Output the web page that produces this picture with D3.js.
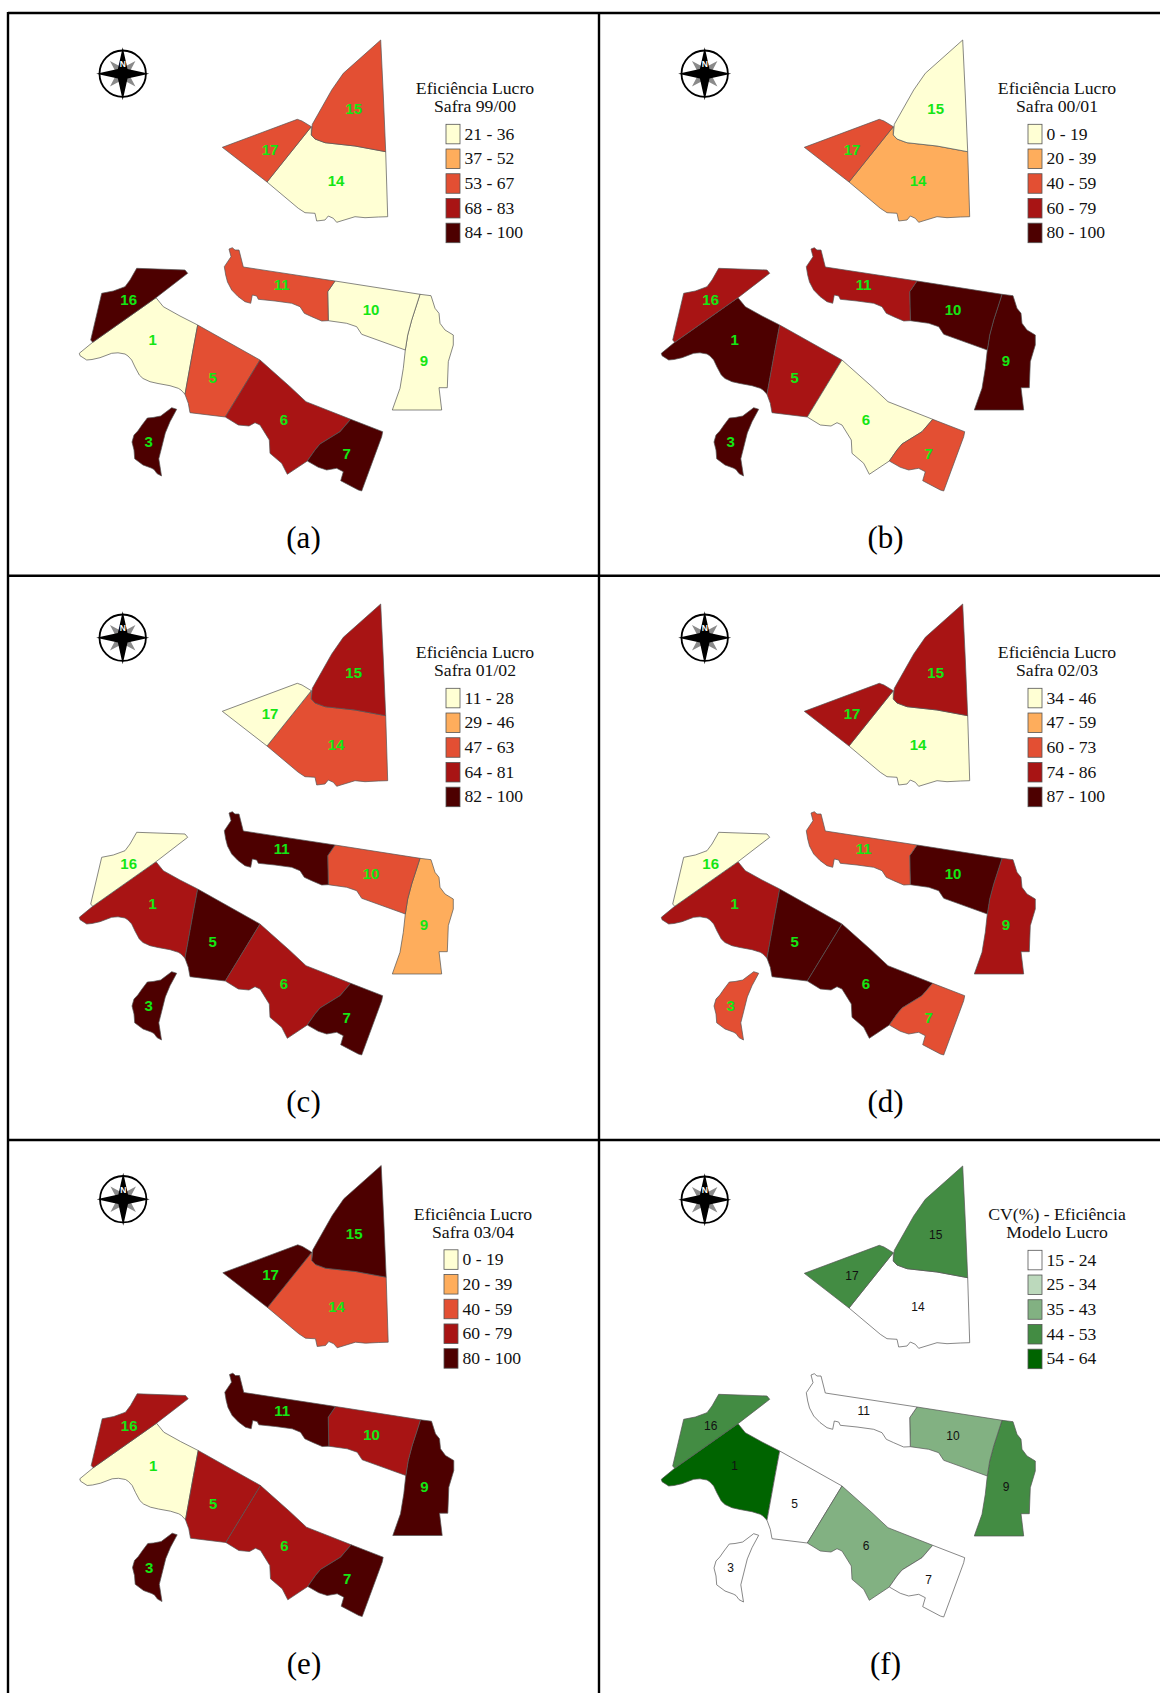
<!DOCTYPE html>
<html>
<head>
<meta charset="utf-8">
<script src="https://cdn.jsdelivr.net/npm/d3@7"></script>
<style>
  html, body { margin: 0; padding: 0; background: #fff; }
  svg { display: block; }
</style>
</head>
<body>
<div id="chart"></div>
<script>
// plot outlines (panel a)
var plot1 = [[156,297.7],[163.3,306.7],[180,316],[197.7,325],[193,350],[185,394.3],[181,390],[178.3,388.3],[170,385.7],[158,383.5],[150,381.7],[143,378.5],[139.3,375],[135,367],[131.7,360],[128,356],[125,354],[118,352.8],[111.7,353.3],[100,357.7],[92,359.5],[86.7,360],[80,355.7],[79.3,353.3],[92.7,342.3]]
var plot3 = [[171.7,407.7],[176.7,409.3],[170,421.7],[165.3,432.9],[158.8,458.8],[161.5,476],[157,473.6],[154,469.5],[151.2,468],[143,465],[134.7,458.8],[134,450],[132,442],[134,435],[137.8,431],[142,425],[147.3,418],[153,417.5],[160.7,416],[166,412]]
var plot5 = [[197.7,325],[260,360],[225.3,417],[190,412.7],[188.3,403.3],[185,394.3],[193,350]]
var plot6 = [[260,360],[290,386.7],[306,401.7],[350.7,419.3],[340,431.7],[320,444],[315,450],[307.3,461],[287.3,474.3],[281.7,463.3],[270,453.3],[269.3,440],[260,425],[255,422.7],[249,426],[238.3,425],[225.3,417]]
var plot7 = [[350.7,419.3],[382.7,431.7],[381.7,436.7],[361.7,491],[358.3,490],[340.7,480.7],[343.3,471.7],[336.7,468.3],[326.7,470],[318.3,467.3],[307.3,461],[315,450],[320,444],[340,431.7]]
var plot9 = [[420,294.3],[431,295.7],[435,308.3],[439,313.3],[440,323.3],[445,330],[453.3,335],[453.3,345],[448.3,361.7],[447.3,387.7],[439,387.7],[441.7,410],[392.3,410],[400,388.3],[403.3,368.3],[405.3,350],[407.7,335],[411.7,320]]
var plot10 = [[335,281],[420,294.3],[411.7,320],[407.7,335],[405.3,350],[361.7,334.3],[356.7,326.7],[346.7,323.3],[328.3,320.7],[327.7,291.7]]
var plot11 = [[243.3,267],[335,281],[327.7,291.7],[328.3,320.7],[321.7,321],[311.7,316.7],[304.3,313.3],[300,306.7],[291.7,303.3],[275,301],[258.3,299.3],[256.7,296],[252.3,295],[250.7,303.3],[245,301.7],[238,296.5],[231.7,290],[227.5,282],[225.7,275],[224.3,266.7],[231,256.7],[229,249],[232.3,247.7],[235,250],[239,250]]
var plot14 = [[311.3,126.7],[311.3,135],[315,139],[325,142.7],[355,146],[385.7,151.7],[387.7,216.7],[378.3,217],[365,217.7],[355,216.7],[336.7,222.3],[333.3,218.3],[328.3,216],[325,220],[316.7,221],[315,213.3],[305,212.7],[298.3,208.3],[267,182]]
var plot15 = [[380.7,40],[383.3,95],[385.7,151.7],[355,146],[325,142.7],[315,139],[311.3,135],[312.3,124.3],[331.7,90],[343.3,73.3]]
var plot16 = [[136.7,268.3],[185,270],[187.7,273.3],[156,297.7],[92.7,342.3],[90.7,340],[101.7,293.3],[113.3,291],[125,286.7],[130,280]]
var plot17 = [[222.3,147.3],[297.3,119.3],[302,121],[311.3,126.7],[267,182]]

var plotIds = ["1","3","5","6","7","9","10","11","14","15","16","17"]
var plotShapes = [plot1,plot3,plot5,plot6,plot7,plot9,plot10,plot11,plot14,plot15,plot16,plot17]
var labelAt = [[152.7,340],[148.7,441.7],[212.7,377.7],[284,420],[346.7,453.3],[424,361],[371,309.3],[281.7,285],[336,180.7],[353.7,108.3],[128.7,300],[270,149.3]]

// class of each plot per panel, same order as plotIds
var classA = [0,4,2,3,4,0,0,2,0,2,4,2]
var classB = [4,4,3,0,2,4,4,3,1,0,3,2]
var classC = [3,4,4,3,4,1,2,4,2,3,0,0]
var classD = [3,2,4,4,2,3,4,2,0,3,0,3]
var classE = [0,4,3,3,4,4,3,4,2,4,3,4]
var classF = [4,0,0,2,0,3,2,0,0,3,3,3]

var ticksA = ["21 - 36","37 - 52","53 - 67","68 - 83","84 - 100"]
var ticksB = ["0 - 19","20 - 39","40 - 59","60 - 79","80 - 100"]
var ticksC = ["11 - 28","29 - 46","47 - 63","64 - 81","82 - 100"]
var ticksD = ["34 - 46","47 - 59","60 - 73","74 - 86","87 - 100"]
var ticksE = ["0 - 19","20 - 39","40 - 59","60 - 79","80 - 100"]
var ticksF = ["15 - 24","25 - 34","35 - 43","44 - 53","54 - 64"]

var reds = ["#ffffd4","#fead5c","#e34f33","#a81414","#4d0000"]
var greens = ["#ffffff","#bcd9bc","#82b182","#438c43","#006400"]

var panels = [
  {tag:"(a)", dx:0,   dy:0,    classes:classA, ticks:ticksA, title:["Eficiência Lucro","Safra 99/00"], colors:reds, labelColor:"#14e614"},
  {tag:"(b)", dx:582, dy:0,    classes:classB, ticks:ticksB, title:["Eficiência Lucro","Safra 00/01"], colors:reds, labelColor:"#14e614"},
  {tag:"(c)", dx:0,   dy:564,  classes:classC, ticks:ticksC, title:["Eficiência Lucro","Safra 01/02"], colors:reds, labelColor:"#14e614"},
  {tag:"(d)", dx:582, dy:564,  classes:classD, ticks:ticksD, title:["Eficiência Lucro","Safra 02/03"], colors:reds, labelColor:"#14e614"},
  {tag:"(e)", dx:0.5, dy:1125.5, classes:classE, ticks:ticksE, title:["Eficiência Lucro","Safra 03/04"], colors:reds, labelColor:"#14e614", legendShift:-2.5},
  {tag:"(f)", dx:582, dy:1126, classes:classF, ticks:ticksF, title:["CV(%) - Eficiência","Modelo Lucro"], colors:greens, labelColor:"#111"}
]

var width = 1160, height = 1693

var svg = d3.select("#chart").append("svg")
  .attr("width", width)
  .attr("height", height)

// frame lines
var frame = [[8,13,1160,13],[8,575.7,1160,575.7],[8,1140,1160,1140],[8,12,8,1693],[599,12,599,1693]]
svg.selectAll("line.frame").data(frame).enter().append("line")
  .attr("class","frame")
  .attr("x1",function(d){return d[0]})
  .attr("y1",function(d){return d[1]})
  .attr("x2",function(d){return d[2]})
  .attr("y2",function(d){return d[3]})
  .attr("stroke","#000")
  .attr("stroke-width",2.4)

function compass(g, cx, cy) {
  var line = d3.line().x(function(d){return cx+d[0]}).y(function(d){return cy+d[1]})
  function star(r, inner, start) {
    var pts = []
    for (var i=0; i<8; i++) {
      var a = start + i*Math.PI/4
      var rr = i%2==0 ? r : inner
      pts.push([rr*Math.sin(a), -rr*Math.cos(a)])
    }
    return pts
  }
  g.append("circle").attr("cx",cx).attr("cy",cy).attr("r",23.2)
    .attr("fill","#fff").attr("stroke","#000").attr("stroke-width",1.8)
  g.append("path").attr("d",line(star(18,6,Math.PI/4))+"Z").attr("fill","#8a8a8a")
  g.append("path").attr("d",line(star(26.5,6.8,0))+"Z").attr("fill","#000")
  g.append("text").attr("x",cx).attr("y",cy-6.5).attr("text-anchor","middle")
    .attr("font-family","Liberation Sans").attr("font-size",8.5).attr("font-weight","bold")
    .attr("fill","#fff").text("N")
}

var line = d3.line().curve(d3.curveLinear)

panels.forEach(function(p){
  var g = svg.append("g")
  var x = d3.scaleLinear().domain([0,width]).range([p.dx,p.dx+width])
  var y = d3.scaleLinear().domain([0,height]).range([p.dy,p.dy+height])
  var color = d3.scaleOrdinal().domain([0,1,2,3,4]).range(p.colors)
  line.x(function(d){return x(d[0])}).y(function(d){return y(d[1])})

  g.selectAll("path.plot").data(plotShapes).enter().append("path")
    .attr("class","plot")
    .attr("d",function(d){return line(d)+"Z"})
    .attr("fill",function(d,i){return color(p.classes[i])})
    .attr("stroke","#555")
    .attr("stroke-width",0.7)
    .attr("stroke-linejoin","round")

  var green = p.tag!="(f)"
  g.selectAll("text.plot").data(plotIds).enter().append("text")
    .attr("class","plot")
    .attr("x",function(d,i){return x(labelAt[i][0])})
    .attr("y",function(d,i){return y(labelAt[i][1])})
    .attr("dy","0.36em")
    .attr("text-anchor","middle")
    .attr("font-family","Liberation Sans")
    .attr("font-size",green ? 15 : 12)
    .attr("font-weight",green ? "bold" : "normal")
    .attr("fill",p.labelColor)
    .text(function(d){return d})

  compass(g, x(122.7), y(73.7))

  // legend
  var shift = p.legendShift || 0
  var legend = d3.scaleBand().domain(d3.range(5)).range([124.3,242.7]).paddingInner(0.21).paddingOuter(0)
  var lg = g.append("g")
  lg.selectAll("text.title").data(p.title).enter().append("text")
    .attr("class","title")
    .attr("x",x(475+shift))
    .attr("y",function(d,i){return y(94+i*18.3)})
    .attr("text-anchor","middle")
    .attr("font-family","Liberation Serif")
    .attr("font-size",17.7)
    .attr("fill","#111")
    .text(function(d){return d})
  lg.selectAll("rect").data(p.ticks).enter().append("rect")
    .attr("x",x(446+shift))
    .attr("y",function(d,i){return y(legend(i))})
    .attr("width",14)
    .attr("height",legend.bandwidth())
    .attr("fill",function(d,i){return color(i)})
    .attr("stroke","#555")
    .attr("stroke-width",0.8)
  lg.selectAll("text.tick").data(p.ticks).enter().append("text")
    .attr("class","tick")
    .attr("x",x(464.5+shift))
    .attr("y",function(d,i){return y(legend(i)+legend.bandwidth()/2+5.5)})
    .attr("font-family","Liberation Serif")
    .attr("font-size",17.6)
    .attr("fill","#111")
    .text(function(d){return d})

  g.append("text")
    .attr("x",x(303.5))
    .attr("y",y(548))
    .attr("text-anchor","middle")
    .attr("font-family","Liberation Serif")
    .attr("font-size",31)
    .attr("fill","#000")
    .text(p.tag)
})
</script>
</body>
</html>
